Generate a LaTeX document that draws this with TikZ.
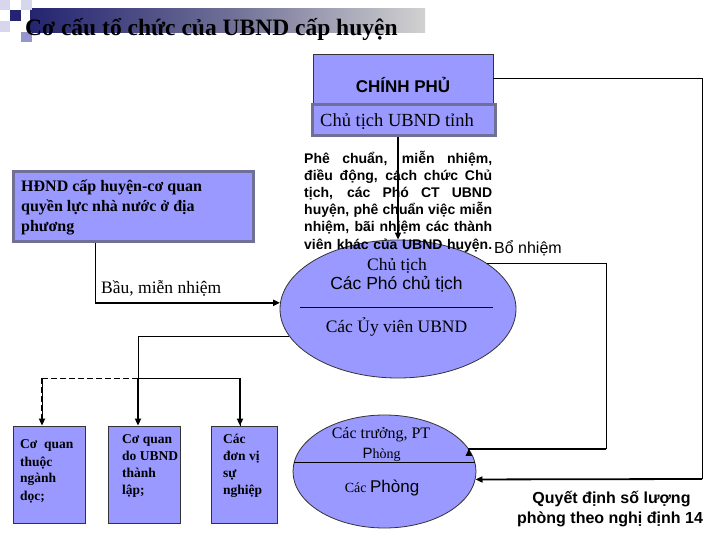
\documentclass[tikz,border=0pt]{standalone}
\usepackage{fontspec}
\setmainfont{Liberation Serif}
\setsansfont{Liberation Sans}
\usetikzlibrary{shapes.geometric,arrows.meta}
\definecolor{boxblue}{RGB}{153,153,255}
\definecolor{edgegray}{RGB}{112,112,150}
\definecolor{navy}{RGB}{36,36,112}
\definecolor{barmid}{RGB}{110,110,150}
\definecolor{lightsq}{RGB}{214,214,236}
\definecolor{midsq}{RGB}{150,150,205}
\newcommand{\fs}[1]{\fontsize{#1}{#1}\selectfont}
\begin{document}
\begin{tikzpicture}[x=1pt,y=-1pt,
  box/.style={draw=black!80, fill=boxblue, line width=0.8pt, inner sep=0pt, rectangle},
  gbox/.style={draw=edgegray, fill=boxblue, line width=3pt, inner sep=0pt, rectangle},
  ell/.style={draw=black!80, fill=boxblue, line width=0.8pt, ellipse, inner sep=0pt},
  txt/.style={inner sep=0pt, anchor=base west},
  ctxt/.style={inner sep=0pt, anchor=base},
  conn/.style={line width=1pt},
  arr/.style={line width=1.8pt, -{Triangle[length=7pt,width=6pt]}},
]
\useasboundingbox (0,0) rectangle (720,540);
\fill[white] (0,0) rectangle (720,540);

% title decoration
\shade[left color=navy, right color=black!18, middle color=barmid] (30,9) rectangle (425,33);
\fill[lightsq] (0,0) rectangle (10,10);
\fill[lightsq] (21,0) rectangle (32,10);
\fill[lightsq] (0,21) rectangle (10,32);
\fill[navy] (10,10) rectangle (21,21);
\fill[midsq] (21,32) rectangle (32,42);
\node[txt, font=\bfseries\fs{23.5}] (title) at (25,36) {Cơ cấu tổ chức của UBND cấp huyện};

% top boxes
\node[box, minimum width=180, minimum height=49] (cp) at (403,78.5) {};
\node[ctxt, font=\sffamily\bfseries\fs{17}] (cpt) at (403,93) {CHÍNH PHỦ};
\node[gbox, minimum width=183, minimum height=31] (ctt) at (403.5,120.5) {};
\node[txt, font=\fs{18.5}] (cttt) at (320,127) {Chủ tịch UBND tỉnh};

% HDND box
\node[gbox, minimum width=240, minimum height=69] (hdnd) at (133,206.5) {};
\node[txt, font=\bfseries\fs{16}] (h1) at (21,192) {HĐND cấp huyện-cơ quan};
\node[txt, font=\bfseries\fs{16}] (h2) at (21,211.5) {quyền lực nhà nước ở địa};
\node[txt, font=\bfseries\fs{16}] (h3) at (21,231) {phương};

% upper ellipse
\node[ell, minimum width=236, minimum height=138] (e1) at (398,309) {};
\draw[line width=0.8pt] ([shift={(-98,-2)}]e1.center) -- ([shift={(95,-2)}]e1.center);
\node[ctxt, font=\fs{17.5}] (e1a) at (397,270) {Chủ tịch};
\node[ctxt, font=\sffamily\fs{17.5}] (e1b) at (396.5,289) {Các Phó chủ tịch};
\node[ctxt, font=\fs{17.5}] (e1c) at (396.5,332) {Các Ủy viên UBND};

% paragraph
\node[txt, font=\sffamily\bfseries\fs{14}] (p1) at (304,163.5) {\makebox[188pt][s]{Phê chuẩn, miễn nhiệm,}};
\node[txt, font=\sffamily\bfseries\fs{14}] (p2) at (304,180.6) {\makebox[188pt][s]{điều động, cách chức Chủ}};
\node[txt, font=\sffamily\bfseries\fs{14}] (p3) at (304,197.7) {\makebox[188pt][s]{tịch, các Phó CT UBND}};
\node[txt, font=\sffamily\bfseries\fs{14}] (p4) at (304,214.8) {\makebox[188pt][s]{huyện, phê chuẩn việc miễn}};
\node[txt, font=\sffamily\bfseries\fs{14}] (p5) at (304,231.9) {\makebox[188pt][s]{nhiệm, bãi nhiệm các thành}};
\node[txt, font=\sffamily\bfseries\fs{14}] (p6) at (304,249) {\makebox[188pt][s]{viên khác của UBND huyện.}};
\node[txt, font=\sffamily\fs{16}] (bn) at (494,253) {Bổ nhiệm};

% lower boxes
\node[box, minimum width=72, minimum height=97] (b1) at (49,474.5) {};
\node[box, minimum width=72, minimum height=97] (b2) at (144,474.5) {};
\node[box, minimum width=66, minimum height=97] (b3) at (244,474.5) {};
\node[txt, font=\bfseries\fs{13.5}] (b1a) at (20,448) {Cơ\ \ quan};
\node[txt, font=\bfseries\fs{13.5}] (b1b) at (20,466) {thuộc};
\node[txt, font=\bfseries\fs{13.5}] (b1c) at (20,482) {ngành};
\node[txt, font=\bfseries\fs{13.5}] (b1d) at (20,500) {dọc;};
\node[txt, font=\bfseries\fs{13.5}] (b2a) at (122,443) {Cơ quan};
\node[txt, font=\bfseries\fs{13.5}] (b2b) at (122,460) {do UBND};
\node[txt, font=\bfseries\fs{13.5}] (b2c) at (122,477) {thành};
\node[txt, font=\bfseries\fs{13.5}] (b2d) at (122,494) {lập;};
\node[txt, font=\bfseries\fs{13.5}] (b3a) at (223,443) {Các};
\node[txt, font=\bfseries\fs{13.5}] (b3b) at (223,460) {đơn vị};
\node[txt, font=\bfseries\fs{13.5}] (b3c) at (223,477) {sự};
\node[txt, font=\bfseries\fs{13.5}] (b3d) at (223,494) {nghiệp};

% lower ellipse
\node[ell, minimum width=183, minimum height=113] (e2) at (384.5,471.5) {};
\draw[line width=0.8pt] ([shift={(-90.2,-9.5)}]e2.center) -- ([shift={(90.2,-9.5)}]e2.center);
\node[ctxt, font=\fs{16}] (e2a) at (381,438) {Các trưởng, PT};
\node[ctxt] (e2b) at (381.5,458) {{\sffamily\fs{15}P}{\fs{14}hòng}};
\node[ctxt] (e2c) at (382,492) {{\fs{14}Các }{\sffamily\fs{17}Phòng}};

% label bottom right
\node[ctxt, font=\sffamily\bfseries\fs{16}] (q1) at (611.5,503) {Quyết định số lượng};
\node[ctxt, font=\sffamily\bfseries\fs{16}] (q2) at (610,523) {phòng theo nghị định 14};
\node[txt, font=\fs{17.5}] (bau) at (101,293) {Bầu, miễn nhiệm};

% coordinates
\coordinate (jn) at (138,378);
\coordinate (c1) at (606,449);
\coordinate (c2) at (702,479);

% connectors
\draw[arr, line width=1.2pt] (ctt.south -| e1.north) -- (e1.north);
\draw[conn] ([xshift=-38pt]hdnd.south) -- ([xshift=-38pt]hdnd.south |- e1.177);
\draw[arr] ([xshift=-38pt]hdnd.south |- e1.177) -- (e1.177);
\draw[conn] (e1.194) -| (jn);
\draw[arr] (jn) -- (jn |- b2.north);
\draw[conn] (jn) -| ([xshift=-4pt]b3.north);
\draw[arr] (jn -| b3.north) ++(-4,0) -- ([xshift=-4pt]b3.north);
\draw[conn, dashed, dash pattern=on 6pt off 3pt] (jn) -| ([xshift=-7pt]b1.north);
\draw[arr, dashed, dash pattern=on 6pt off 3pt] ([xshift=-7pt]b1.north |- jn) -- ([xshift=-7pt]b1.north);
\draw[conn] (e1.27) -| (c1);
\draw[arr] (c1) -- (c1 -| e2.15) -- (e2.15);
\draw[conn] (cp.east) -| (c2);
\draw[arr] (c2) -- (e2.-5);
\end{tikzpicture}
\end{document}
